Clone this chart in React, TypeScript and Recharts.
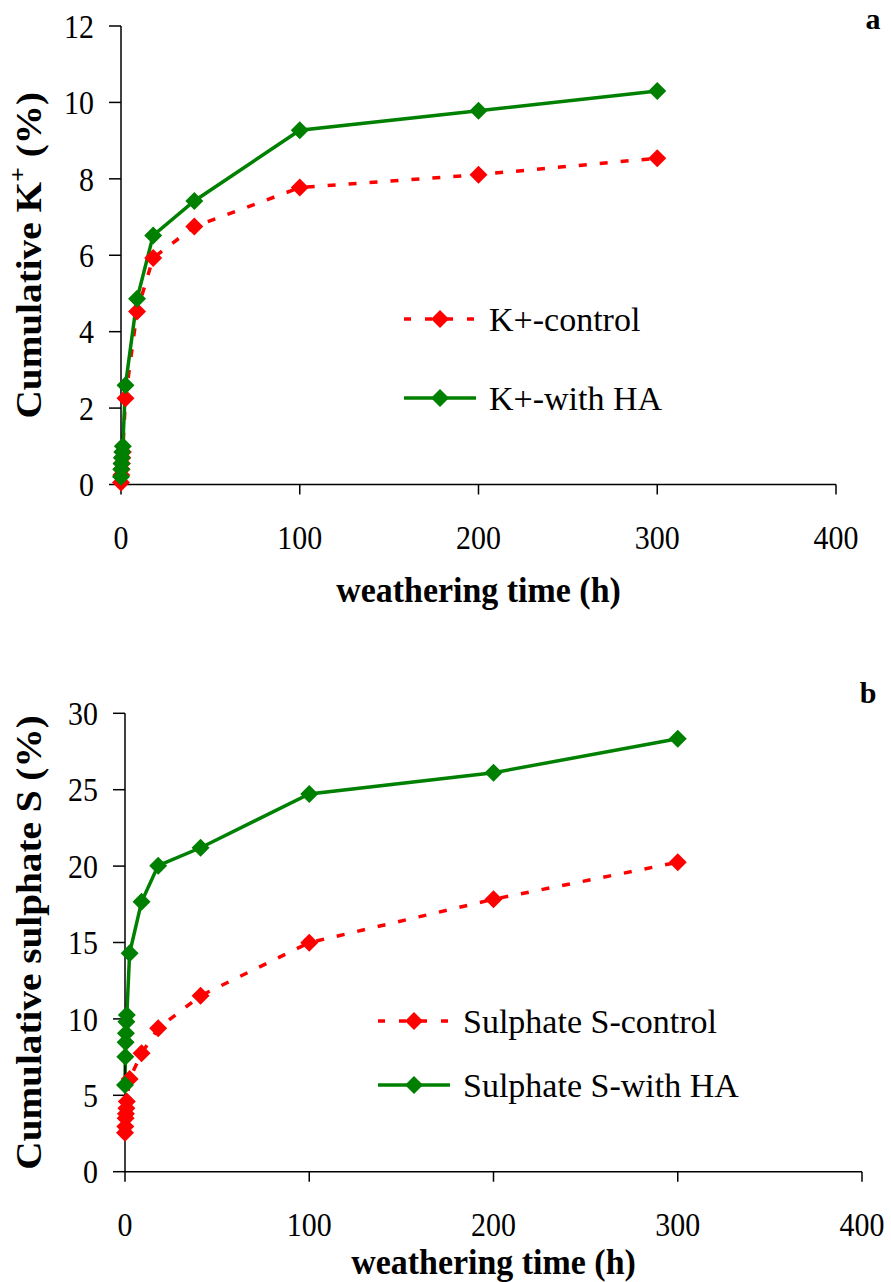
import React from 'react';
import { LineChart, Line, XAxis, YAxis, Legend, Customized } from 'recharts';

// sampling times (h), shared by both panels
const hours = [0, 0.17, 0.33, 0.5, 0.75, 1, 2.5, 9, 18, 41, 100, 200, 300];
const xTicks = [0, 100, 200, 300, 400];

// panel a: cumulative K+ (%)
const kControl = [0.05, 0.25, 0.4, 0.55, 0.7, 0.85, 2.26, 4.53, 5.93, 6.75, 7.77, 8.11, 8.54];
const kWithHA = [0.2, 0.4, 0.55, 0.7, 0.85, 1.0, 2.6, 4.86, 6.52, 7.42, 9.27, 9.78, 10.3];
const kTicks = [0, 2, 4, 6, 8, 10, 12];

// panel b: cumulative sulphate S (%)
const sControl = [2.55, 2.95, 3.5, 3.8, 4.15, 4.6, 6.07, 7.75, 9.38, 11.52, 14.99, 17.83, 20.25];
const sWithHA = [5.67, 7.53, 8.47, 9.06, 9.82, 10.26, 14.29, 17.67, 20.03, 21.2, 24.72, 26.11, 28.34];
const sTicks = [0, 5, 10, 15, 20, 25, 30];

const RED = '#ff0000';
const GREEN = '#008000';
const FONT = '"Liberation Serif", "Times New Roman", serif';

const diamond = (color: string) => (props: any) => {
  const { cx, cy, index } = props;
  if (cx == null || cy == null) return <g key={index} />;
  const r = 9;
  return (
    <polygon
      key={index}
      points={`${cx},${cy - r} ${cx + r},${cy} ${cx},${cy + r} ${cx - r},${cy}`}
      fill={color}
    />
  );
};

const XTick = ({ x, y, payload }: any) => (
  <text
    transform={`translate(${x},${y + 43}) scale(0.88,1)`}
    textAnchor="middle"
    dominantBaseline="central"
    fontSize={34}
    fontFamily={FONT}
    fill="#000"
  >
    {payload.value}
  </text>
);

const YTick = ({ x, y, payload }: any) => (
  <text
    transform={`translate(${x},${y}) scale(0.88,1)`}
    textAnchor="end"
    dominantBaseline="central"
    fontSize={34}
    fontFamily={FONT}
    fill="#000"
  >
    {payload.value}
  </text>
);

interface PanelProps {
  letter: string;
  letterPos: [number, number];
  data: { h: number; control: number; ha: number }[];
  yTicks: number[];
  yTitle: React.ReactNode;
  xTitleY: number;
  names: [string, string];
  legendPos: { left: number; top: number };
  legendGap: number;
  height: number;
  margin: { top: number; right: number; left: number; bottom: number };
  yWidth: number;
}

const Panel: React.FC<PanelProps> = ({
  letter, letterPos, data, yTicks, yTitle, xTitleY, names, legendPos, legendGap, height, margin, yWidth,
}) => {
  const r1 = 29;
  const r2 = 29 + legendGap;
  const renderLegend = () => (
    <svg width={380} height={140} style={{ overflow: 'visible' }}>
      <line x1={8} y1={r1} x2={80} y2={r1} stroke={RED} strokeWidth={3.5} strokeDasharray="7 14" />
      <polygon points={`44,${r1 - 9} 53,${r1} 44,${r1 + 9} 35,${r1}`} fill={RED} />
      <text x={93} y={r1} dominantBaseline="central" fontSize={34} fontFamily={FONT} fill="#000">{names[0]}</text>
      <line x1={8} y1={r2} x2={80} y2={r2} stroke={GREEN} strokeWidth={3.5} />
      <polygon points={`44,${r2 - 9} 53,${r2} 44,${r2 + 9} 35,${r2}`} fill={GREEN} />
      <text x={93} y={r2} dominantBaseline="central" fontSize={34} fontFamily={FONT} fill="#000">{names[1]}</text>
    </svg>
  );

  return (
    <LineChart width={891} height={height} data={data} margin={margin}>
      <XAxis
        dataKey="h"
        type="number"
        domain={[0, 400]}
        ticks={xTicks}
        height={80}
        axisLine={{ stroke: '#000', strokeWidth: 1.5 }}
        tickLine={{ stroke: '#000', strokeWidth: 1.5 }}
        tickSize={10}
        tickMargin={0}
        tick={<XTick />}
        label={{
          content: (p: any) => {
            const vb = p.viewBox;
            return (
              <text
                transform={`translate(${vb.x + vb.width / 2},${xTitleY}) scale(0.97,1)`}
                textAnchor="middle"
                dominantBaseline="central"
                fontSize={35}
                fontWeight="bold"
                fontFamily={FONT}
                fill="#000"
              >
                weathering time (h)
              </text>
            );
          },
        }}
      />
      <YAxis
        type="number"
        domain={[yTicks[0], yTicks[yTicks.length - 1]]}
        ticks={yTicks}
        width={yWidth}
        axisLine={{ stroke: '#000', strokeWidth: 1.5 }}
        tickLine={{ stroke: '#000', strokeWidth: 1.5 }}
        tickSize={12}
        tickMargin={15}
        tick={<YTick />}
        label={{
          content: (p: any) => {
            const vb = p.viewBox;
            return (
              <text
                transform={`translate(29,${vb.y + vb.height / 2}) scale(1,1.09) rotate(-90)`}
                textAnchor="middle"
                dominantBaseline="central"
                fontSize={36}
                fontWeight="bold"
                fontFamily={FONT}
                fill="#000"
              >
                {yTitle}
              </text>
            );
          },
        }}
      />
      <Legend
        layout="vertical"
        align="center"
        verticalAlign="middle"
        content={renderLegend}
        wrapperStyle={{ left: legendPos.left, top: legendPos.top, width: 380, height: 140 }}
      />
      <Line
        dataKey="control"
        name={names[0]}
        type="linear"
        stroke={RED}
        strokeWidth={3.5}
        strokeDasharray="8 13"
        dot={diamond(RED)}
        activeDot={false}
        isAnimationActive={false}
      />
      <Line
        dataKey="ha"
        name={names[1]}
        type="linear"
        stroke={GREEN}
        strokeWidth={3.5}
        dot={diamond(GREEN)}
        activeDot={false}
        isAnimationActive={false}
      />
      <Customized
        component={() => (
          <text
            x={letterPos[0]}
            y={letterPos[1]}
            textAnchor="middle"
            dominantBaseline="central"
            fontSize={30}
            fontWeight="bold"
            fontFamily={FONT}
            fill="#000"
          >
            {letter}
          </text>
        )}
      />
    </LineChart>
  );
};

export default function App() {
  const kData = hours.map((h, i) => ({ h, control: kControl[i], ha: kWithHA[i] }));
  const sData = hours.map((h, i) => ({ h, control: sControl[i], ha: sWithHA[i] }));

  return (
    <div
      style={{
        position: 'absolute',
        left: 0,
        top: 0,
        width: 891,
        height: 1282,
        background: '#fff',
        fontFamily: FONT,
        overflow: 'hidden',
      }}
    >
      <div style={{ position: 'absolute', left: 0, top: 0 }}>
        <Panel
          letter="a"
          letterPos={[873, 18]}
          data={kData}
          yTicks={kTicks}
          yTitle={
            <>
              Cumulative K<tspan dy={-13} fontSize={24}>+</tspan>
              <tspan dy={13}> (%)</tspan>
            </>
          }
          xTitleY={590}
          names={['K+-control', 'K+-with HA']}
          legendPos={{ left: 396, top: 290 }}
          legendGap={79}
          height={620}
          margin={{ top: 26, right: 55, left: 0, bottom: 55.5 }}
          yWidth={121}
        />
      </div>
      <div style={{ position: 'absolute', left: 0, top: 640 }}>
        <Panel
          letter="b"
          letterPos={[868, 52]}
          data={sData}
          yTicks={sTicks}
          yTitle="Cumulative sulphate S (%)"
          xTitleY={622}
          names={['Sulphate S-control', 'Sulphate S-with HA']}
          legendPos={{ left: 370, top: 352 }}
          legendGap={64}
          height={642}
          margin={{ top: 73.3, right: 29, left: 0, bottom: 30.3 }}
          yWidth={125}
        />
      </div>
    </div>
  );
}
